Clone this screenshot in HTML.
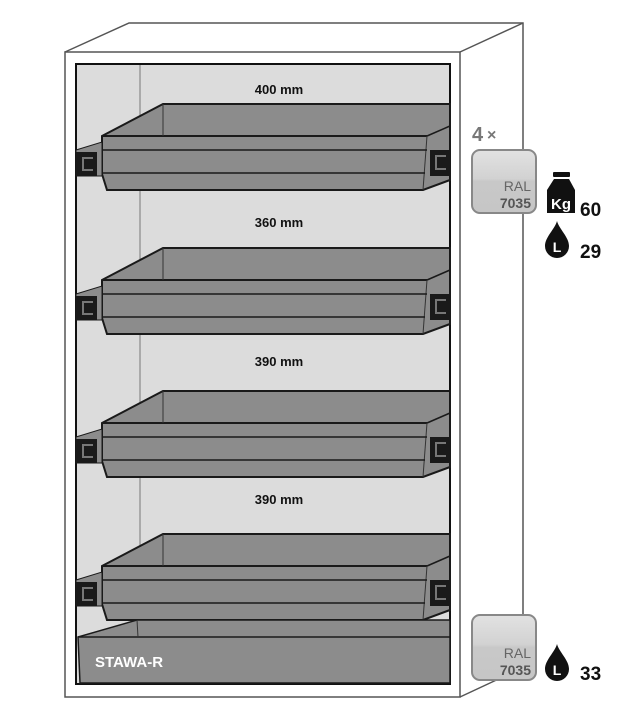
<!DOCTYPE html>
<html><head><style>
html,body{margin:0;padding:0;background:#fff;}
svg{display:block;}
text{font-family:"Liberation Sans",sans-serif;}
</style></head><body>
<svg width="629" height="718" viewBox="0 0 629 718" xmlns="http://www.w3.org/2000/svg">
<defs>
<linearGradient id="bg" x1="0" y1="0" x2="0" y2="1">
<stop offset="0" stop-color="#e2e2e2"/><stop offset="0.45" stop-color="#d2d2d2"/><stop offset="0.5" stop-color="#c8c8c8"/><stop offset="1" stop-color="#c6c6c6"/>
</linearGradient>
<g id="drawer">
<polygon points="102,32 163,0 450,0 450,76 423,86 107,86 102,70" fill="#8c8c8c" stroke="#1a1a1a" stroke-width="2"/>
<line x1="102" y1="32" x2="427" y2="32" stroke="#1a1a1a" stroke-width="2"/>
<line x1="427" y1="32" x2="450" y2="22" stroke="#1a1a1a" stroke-width="1.5"/>
<line x1="427" y1="32" x2="423" y2="86" stroke="#333" stroke-width="1"/>
<line x1="163" y1="0" x2="163" y2="32" stroke="#333" stroke-width="1"/>
<line x1="102" y1="46" x2="427" y2="46" stroke="#1a1a1a" stroke-width="1.5"/>
<line x1="102" y1="69" x2="425" y2="69" stroke="#1a1a1a" stroke-width="1.5"/>
<polygon points="76,46 102,38 102,72 97,72 76,72" fill="#8c8c8c" stroke="#1a1a1a" stroke-width="1"/>
<rect x="76" y="48" width="21" height="24" fill="#1a1a1a"/>
<rect x="82" y="53" width="11" height="14" fill="#777"/>
<rect x="84" y="55" width="9" height="10" fill="#1a1a1a"/>
<rect x="430" y="46" width="20" height="26" fill="#1a1a1a"/>
<rect x="435" y="51" width="11" height="15" fill="#777"/>
<rect x="437" y="53" width="9" height="11" fill="#1a1a1a"/>
</g>
<g id="drop">
<path d="M12,0 C14,8 24,16 24,25 A12,12 0 0 1 0,25 C0,16 10,8 12,0 Z" fill="#111"/>
<text x="12" y="31" font-size="14" font-weight="bold" fill="#fff" text-anchor="middle">L</text>
</g>
</defs>
<!-- cabinet outline -->
<polygon points="65,52 129,23 523,23 523,620 460,697 65,697" fill="#fff"/>
<polyline points="65,52 129,23 523,23 523,620" fill="none" stroke="#555" stroke-width="1.5"/>
<line x1="460" y1="52" x2="523" y2="23" stroke="#555" stroke-width="1.5"/>
<line x1="460" y1="697" x2="505" y2="676" stroke="#555" stroke-width="1.5"/>
<rect x="65" y="52" width="395" height="645" fill="#fff" stroke="#555" stroke-width="1.5"/>
<!-- interior -->
<rect x="76" y="64" width="374" height="620" fill="#dcdcdc" stroke="#111" stroke-width="2"/>
<line x1="140" y1="65" x2="140" y2="683" stroke="#777" stroke-width="1"/>
<!-- labels -->
<g font-size="13" font-weight="bold" fill="#111" text-anchor="middle">
<text x="279" y="94">400 mm</text>
<text x="279" y="227">360 mm</text>
<text x="279" y="366">390 mm</text>
<text x="279" y="504">390 mm</text>
</g>
<use href="#drawer" transform="translate(0,104)"/>
<use href="#drawer" transform="translate(0,248)"/>
<use href="#drawer" transform="translate(0,391)"/>
<use href="#drawer" transform="translate(0,534)"/>
<!-- sump -->
<polygon points="78,637 137,620 450,620 450,683 80,683" fill="#8c8c8c" stroke="#1a1a1a" stroke-width="1.5"/>
<line x1="78" y1="637" x2="450" y2="637" stroke="#1a1a1a" stroke-width="1.5"/>
<line x1="137" y1="620" x2="138" y2="637" stroke="#333" stroke-width="1"/>
<text x="95" y="667" font-size="15" font-weight="bold" fill="#fff">STAWA-R</text>
<!-- badges -->
<text x="472" y="141" font-size="20" font-weight="bold" fill="#777">4</text>
<text x="487" y="140" font-size="16" font-weight="bold" fill="#777">×</text>
<g transform="translate(472,150)">
<rect x="0" y="0" width="64" height="63" rx="8" fill="url(#bg)" stroke="#888" stroke-width="2"/>
<text x="59" y="41" font-size="14" fill="#666" text-anchor="end">RAL</text>
<text x="59" y="58" font-size="14" font-weight="bold" fill="#555" text-anchor="end">7035</text>
</g>
<g transform="translate(472,615)">
<rect x="0" y="0" width="64" height="65" rx="8" fill="url(#bg)" stroke="#888" stroke-width="2"/>
<text x="59" y="43" font-size="14" fill="#666" text-anchor="end">RAL</text>
<text x="59" y="60" font-size="14" font-weight="bold" fill="#555" text-anchor="end">7035</text>
</g>
<!-- Kg icon -->
<rect x="553" y="172" width="17" height="5" rx="1" fill="#111"/>
<path d="M554,179 L569,179 L575,190 L575,213 L547,213 L547,190 Z" fill="#111"/>
<text x="561" y="209" font-size="15" font-weight="bold" fill="#fff" text-anchor="middle">Kg</text>
<text x="580" y="216" font-size="19" font-weight="bold" fill="#111">60</text>
<use href="#drop" transform="translate(545,221)"/>
<text x="580" y="258" font-size="19" font-weight="bold" fill="#111">29</text>
<use href="#drop" transform="translate(545,644)"/>
<text x="580" y="680" font-size="19" font-weight="bold" fill="#111">33</text>
</svg>
</body></html>
